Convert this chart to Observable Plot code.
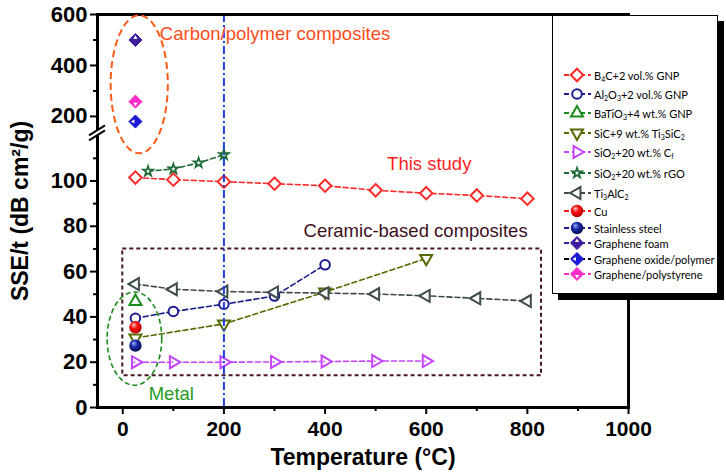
<!DOCTYPE html>
<html>
<head>
<meta charset="utf-8">
<script src="https://cdn.jsdelivr.net/npm/d3@7"></script>
<script src="https://cdn.jsdelivr.net/npm/@observablehq/plot@0.6"></script>
<style>
  body { margin: 0; background: #fff; }
  #chart { position: relative; width: 726px; height: 473px; }
  #legend { position: absolute; left: 552px; top: 15px; width: 164px; height: 277px; background: #fff;
            border: 1px solid #000; box-shadow: 6px 6px 0 #000; font-family: Lato, "Open Sans", sans-serif;
            font-size: 11px; color: #000; }
  #legend .row { position: absolute; left: 10px; height: 16px; display: flex; align-items: center; white-space: nowrap; }
  #legend sub { font-size: 7px; vertical-align: -2px; line-height: 0; }
  #legend svg { margin-right: 3px; overflow: visible; }
</style>
</head>
<body>
<div id="chart"></div>
<script>
// values: temperature (°C) and SSE/t (dB cm2/g)
const b4cTemp = [25, 100, 200, 300, 400, 500, 600, 700, 800];
const b4cSSE = [101.5, 100.6, 99.7, 98.8, 97.9, 95.9, 94.6, 93.6, 92.2];
const al2o3Temp = [25, 100, 200, 300, 400];
const al2o3SSE = [39.4, 42.4, 45.6, 49.2, 63];
const batio3Temp = [25];
const batio3SSE = [46.8];
const sicTemp = [25, 200, 400, 600];
const sicSSE = [30.7, 36.9, 51, 65.8];
const cfTemp = [25, 100, 200, 300, 400, 500, 600];
const cfSSE = [20, 20, 20, 20.1, 20.3, 20.5, 20.5];
const rgoTemp = [50, 100, 150, 200];
const rgoSSE = [104.3, 105.3, 108, 111.6];
const tiTemp = [25, 100, 200, 300, 400, 500, 600, 700, 800];
const tiSSE = [54.5, 52.2, 51.2, 50.8, 50.5, 50.1, 49.3, 48.2, 47];
const cuTemp = [25];
const cuSSE = [35.4];
const steelTemp = [25];
const steelSSE = [27.3];
const foamTemp = [25];
const foamSSE = [500];
const goTemp = [25];
const goSSE = [180];
const psTemp = [25];
const psSSE = [258];

const refTemp = [200];
const xMajor = [0, 200, 400, 600, 800, 1000];
const xMinor = [100, 300, 500, 700, 900];
const yMajor = [0, 20, 40, 60, 80, 100, 200, 400, 600];
const yMinor = [10, 30, 50, 70, 90, 110, 300, 500];

// annotation regions, in data units
const ceramicBox = [{t1: 0, t2: 828, v1: 14, v2: 70}];
const carbonOval = {t: [-23, 90], v: [112, 595]};
const metalOval = {t: [-30, 78], v: [9.6, 50.8]};
const notes = [
  {text: "Carbon/polymer composites", t: 301, v: 525},
  {text: "This study", t: 606, v: 107.5},
  {text: "Ceramic-based composites", t: 579, v: 78},
  {text: "Metal", t: 96, v: 6}
];
const noteColors = ["#ff4d1a", "#ff1f1f", "#3d0f1f", "#1f9a1f"];

// broken y axis: 0–122 linear, then 200–600 compressed
const yu = v => v <= 122 ? v : 128.5 + (v - 200) * 0.1125;
const yInv = u => u <= 122.5 ? u : 200 + (u - 128.5) / 0.1125;

// triangles pointing in 4 directions, same geometry as triangle2
const tri = dir => ({draw(c, size) {
  const s = Math.sqrt(size) * 0.6824, t = s / 2, w = s * Math.sqrt(3) / 2;
  if (dir === "down") { c.moveTo(0, s); c.lineTo(w, -t); c.lineTo(-w, -t); }
  else if (dir === "left") { c.moveTo(-s, 0); c.lineTo(t, w); c.lineTo(t, -w); }
  else if (dir === "right") { c.moveTo(s, 0); c.lineTo(-t, -w); c.lineTo(-t, w); }
  else { c.moveTo(0, -s); c.lineTo(w, t); c.lineTo(-w, t); }
  c.closePath();
}});

const series = [
  {t: b4cTemp, v: b4cSSE, label: "B<sub>4</sub>C+2 vol.% GNP", color: "#ff2a2a", symbol: "diamond2", r: 5.6},
  {t: al2o3Temp, v: al2o3SSE, label: "Al<sub>2</sub>O<sub>3</sub>+2 vol.% GNP", color: "#1c1c8e", symbol: "circle", r: 4.8},
  {t: batio3Temp, v: batio3SSE, label: "BaTiO<sub>3</sub>+4 wt.% GNP", color: "#1a8a1a", symbol: tri("up"), r: 5.7},
  {t: sicTemp, v: sicSSE, label: "SiC+9 wt.% Ti<sub>3</sub>SiC<sub>2</sub>", color: "#566a00", symbol: tri("down"), r: 5.7},
  {t: cfTemp, v: cfSSE, label: "SiO<sub>2</sub>+20 wt.% C<sub>f</sub>", color: "#c444ff", symbol: tri("right"), r: 5.7, pip: true},
  {t: rgoTemp, v: rgoSSE, label: "SiO<sub>2</sub>+20 wt.% rGO", color: "#1e6b35", symbol: "star", r: 3.1, sw: 1.7},
  {t: tiTemp, v: tiSSE, label: "Ti<sub>3</sub>AlC<sub>2</sub>", color: "#3d4b4b", symbol: tri("left"), r: 5.7},
  {t: cuTemp, v: cuSSE, label: "Cu", color: "#ff1a1a", ball: "ballRed", r: 6.2},
  {t: steelTemp, v: steelSSE, label: "Stainless steel", color: "#1c1c8e", ball: "ballBlue", r: 6.2},
  {t: foamTemp, v: foamSSE, label: "Graphene foam", color: "#3f1c9e", solid: tri("up"), dx: 0, dy: -2.2, r: 5.9},
  {t: goTemp, v: goSSE, label: "Graphene oxide/polymer", color: "#1a1ad6", lineColor: "#000", solid: tri("left"), dx: -2.2, dy: 0, r: 5.9},
  {t: psTemp, v: psSSE, label: "Graphene/polystyrene", color: "#ff2ec8", solid: tri("down"), dx: 0, dy: 2.2, r: 5.9}
];
const rowsOf = s => s.t.map((t, i) => ({t, v: s.v[i]}));

const marks = [];
for (const s of series) {
  if (s.t.length > 1) {
    marks.push(Plot.line(rowsOf(s), {x: "t", y: d => yu(d.v), stroke: s.color, strokeWidth: 1.6, strokeDasharray: "5,3"}));
  }
}
marks.push(Plot.rect(ceramicBox, {x1: "t1", x2: "t2", y1: d => yu(d.v1), y2: d => yu(d.v2),
  fill: "none", stroke: "#4a1626", strokeWidth: 2, strokeDasharray: "4,3"}));
for (const s of series) {
  const data = rowsOf(s);
  if (s.ball) {
    marks.push(Plot.dot(data, {x: "t", y: d => yu(d.v), r: s.r, fill: `url(#${s.ball})`}));
  } else if (s.solid) {
    marks.push(Plot.dot(data, {x: "t", y: d => yu(d.v), symbol: "diamond2", r: s.r, fill: s.color, stroke: s.color, strokeWidth: 1}));
    marks.push(Plot.dot(data, {x: "t", y: d => yu(d.v), symbol: s.solid, r: 2, fill: "white", dx: s.dx, dy: s.dy}));
  } else {
    marks.push(Plot.dot(data, {x: "t", y: d => yu(d.v), symbol: s.symbol, r: s.r, fill: "white", stroke: s.color, strokeWidth: s.sw || 2}));
    if (s.pip) marks.push(Plot.dot(data, {x: "t", y: d => yu(d.v), r: 0.9, fill: s.color, dx: -1}));
  }
}
marks.push(Plot.ruleX(refTemp, {stroke: "#1f3fe6", strokeWidth: 2, strokeDasharray: "8,3,2,3"}));
notes.forEach((n, i) => {
  marks.push(Plot.text([n], {x: "t", y: d => yu(d.v), text: "text", fill: noteColors[i], fontSize: 18.5}));
});

marks.push(
  Plot.axisX(xMajor, {fontSize: 21, fontWeight: "bold", tickSize: 7, tickPadding: 7, strokeWidth: 2,
    tickFormat: d3.format("d"), label: null}),
  Plot.axisX(xMinor, {tickSize: 4, strokeWidth: 2, tickFormat: () => "", label: null}),
  Plot.axisX([], {fontSize: 23, fontWeight: "bold", tickSize: 0,
    label: "Temperature (°C)", labelAnchor: "center", labelOffset: 57, labelArrow: "none"}),
  Plot.axisY(yMajor.map(yu), {fontSize: 22, fontWeight: "bold", tickSize: 7, tickPadding: 3, strokeWidth: 2,
    tickFormat: u => Math.round(yInv(u)), label: null}),
  Plot.axisY(yMinor.map(yu), {tickSize: 4, strokeWidth: 2, tickFormat: () => "", label: null}),
  Plot.axisY([], {fontSize: 23, fontWeight: "bold", tickSize: 0,
    label: "SSE/t (dB cm²/g)", labelAnchor: "center", labelOffset: 86, labelArrow: "none"}),
  Plot.frame({stroke: "#000", strokeWidth: 3})
);

const chart = Plot.plot({
  width: 726,
  height: 473,
  marginLeft: 97,
  marginRight: 98,
  marginTop: 14,
  marginBottom: 66,
  style: {fontFamily: "'Liberation Sans', Arial, sans-serif", color: "#000", background: "#fff"},
  x: {domain: [-50, 1000]},
  y: {domain: [0, 173.5]},
  marks
});
d3.select("#chart").append(() => chart);

// ball gradients, ovals and the axis break drawn with the chart's own scales
const svg = d3.select(chart);
const xs = chart.scale("x"), ys = chart.scale("y");
const px = t => xs.apply(t), py = v => ys.apply(yu(v));
const defs = svg.insert("defs", ":first-child");
[["ballRed", "#ffd0d0", "#ff1010", "#b00000"], ["ballBlue", "#9fb0ff", "#1a2aa8", "#060a50"]].forEach(([id, a, b, c]) => {
  const g = defs.append("radialGradient").attr("id", id).attr("cx", "0.45").attr("cy", "0.4").attr("r", "0.6")
    .attr("fx", "0.35").attr("fy", "0.3");
  g.append("stop").attr("offset", "0").attr("stop-color", a);
  g.append("stop").attr("offset", "0.45").attr("stop-color", b);
  g.append("stop").attr("offset", "1").attr("stop-color", c);
});
[[carbonOval, "#ff5a1a", "7,4", 2], [metalOval, "#1a8a1a", "5,3", 1.6]].forEach(([o, col, dash, w]) => {
  const x1 = px(o.t[0]), x2 = px(o.t[1]), y1 = py(o.v[0]), y2 = py(o.v[1]);
  svg.append("ellipse").attr("cx", (x1 + x2) / 2).attr("cy", (y1 + y2) / 2)
    .attr("rx", Math.abs(x2 - x1) / 2).attr("ry", Math.abs(y1 - y2) / 2)
    .attr("fill", "none").attr("stroke", col).attr("stroke-width", w).attr("stroke-dasharray", dash);
});
const bx = xs.apply(-50), by = ys.apply(121);
svg.append("path").attr("d", `M${bx - 8},${by + 2.5}L${bx + 8},${by - 7.5}L${bx + 8},${by - 2.5}L${bx - 8},${by + 7.5}Z`)
  .attr("fill", "#fff");
[0, 5].forEach(o => svg.append("line")
  .attr("x1", bx - 8).attr("y1", by + 2.5 + o).attr("x2", bx + 8).attr("y2", by - 7.5 + o)
  .attr("stroke", "#000").attr("stroke-width", 2));

// legend box
const rowCenters = [75, 94, 113, 133, 152, 173, 193, 211, 228, 243, 259, 274];
const legend = d3.select("#chart").append("div").attr("id", "legend");
series.forEach((s, i) => {
  const row = legend.append("div").attr("class", "row").style("top", `${rowCenters[i] - 16 - 8}px`);
  const sw = row.append("svg").attr("width", 28).attr("height", 16);
  sw.append("line").attr("x1", 1).attr("x2", 28).attr("y1", 8).attr("y2", 8)
    .attr("stroke", s.lineColor || s.color).attr("stroke-width", 2).attr("stroke-dasharray", "5,3");
  const area = Math.PI * s.r * s.r;
  const sym = s.ball ? "circle" : s.solid ? "diamond2" : s.symbol;
  const symType = typeof sym === "string" ? {circle: d3.symbolCircle, diamond2: d3.symbolDiamond2, star: d3.symbolStar}[sym] : sym;
  const g = sw.append("g").attr("transform", "translate(14,8)");
  if (s.ball) {
    g.append("circle").attr("r", s.r).attr("fill", `url(#${s.ball})`);
  } else if (s.solid) {
    g.append("path").attr("d", d3.symbol(symType, area)()).attr("fill", s.color).attr("stroke", s.color);
    g.append("path").attr("d", d3.symbol(s.solid, Math.PI * 4)()).attr("fill", "#fff")
      .attr("transform", `translate(${s.dx},${s.dy})`);
  } else {
    g.append("path").attr("d", d3.symbol(symType, area)()).attr("fill", "#fff").attr("stroke", s.color).attr("stroke-width", s.sw || 2);
  }
  row.append("span").html(s.label);
});
</script>
</body>
</html>
